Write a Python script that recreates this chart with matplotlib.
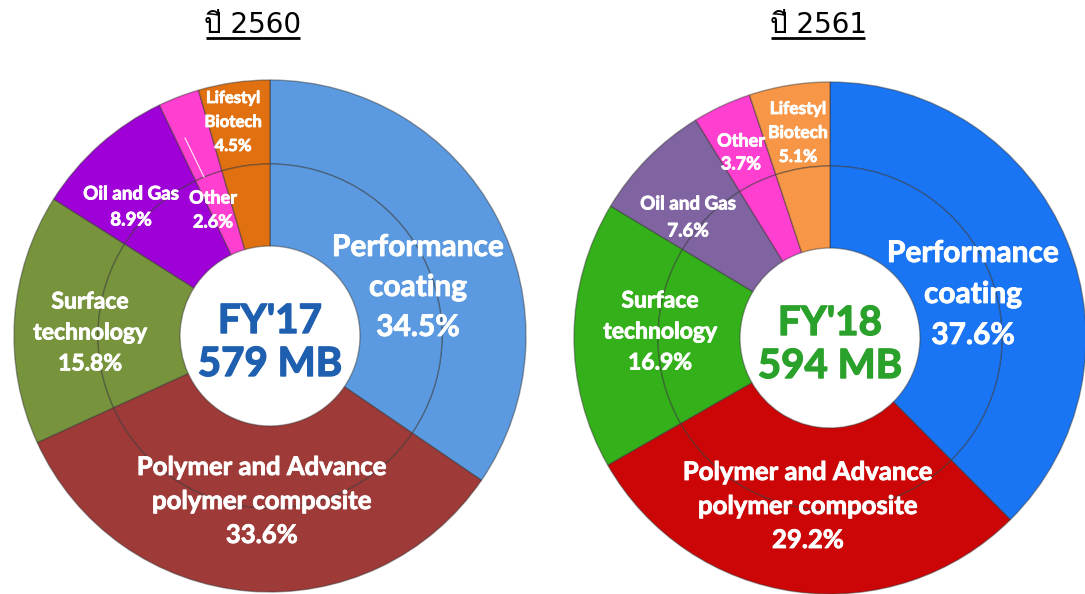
import matplotlib
matplotlib.use("Agg")
import matplotlib.pyplot as plt
from matplotlib import font_manager
from matplotlib.ft2font import FT2Font
import matplotlib.patheffects as pe

# find an installed family that has Thai glyphs
thai_family = None
for f in font_manager.fontManager.ttflist:
    try:
        cmap = FT2Font(f.fname).get_charmap()
    except Exception:
        continue
    if 0x0E1B in cmap and 0x0E35 in cmap:
        thai_family = f.name
        break

base_fams = ['Lato', 'DejaVu Sans']
plt.rcParams['font.family'] = base_fams
title_fams = ['DejaVu Sans'] + ([thai_family] if thai_family else [])

categories = ["Performance\ncoating", "Polymer and Advance\npolymer composite",
              "Surface\ntechnology", "Oil and Gas", "Other", "Lifestyl\nBiotech"]
values_fy17 = [34.5, 33.6, 15.8, 8.9, 2.6, 4.5]
values_fy18 = [37.6, 29.2, 16.9, 7.6, 3.7, 5.1]
titles = ["ปี 2560", "ปี 2561"]
center_texts = ["FY'17\n579 MB", "FY'18\n594 MB"]
colors_fy17 = ["#5B9AE0", "#9E3A38", "#77933C", "#A000D8", "#FF3FD0", "#E07010"]
colors_fy18 = ["#1A75F5", "#CC0606", "#33B01A", "#8064A2", "#FF3FD0", "#F79646"]
center_colors = ["#1F5FAF", "#2AA12A"]

W, H = 1085, 594
fig = plt.figure(figsize=(W / 100, H / 100), dpi=100)
ax = fig.add_axes([0, 0, 1, 1])
ax.set_xlim(0, W)
ax.set_ylim(0, H)
ax.axis('off')

def Y(y):
    return H - y

charts = [
    dict(vals=values_fy17, cols=colors_fy17, cx=270, cy=336, title_x=253,
         labels=[(418, 247, 21.5, 40), (262, 467, 18.5, 34), (90, 302, 16.5, 31),
                 (131, 194, 13.5, 26), (213, 198, 13, 24), (233, 98, 12, 24)]),
    dict(vals=values_fy18, cols=colors_fy18, cx=830, cy=338, title_x=818,
         labels=[(973, 253, 21.5, 41), (808, 472, 18.5, 34), (660, 301, 16.5, 31),
                 (688, 204, 13.5, 27), (741, 141, 13, 23), (798, 109, 12.5, 24)]),
]

R_OUT, R_MID, R_IN = 256, 172, 90
stroke = [pe.withStroke(linewidth=0.6, foreground='white')]

for i, ch in enumerate(charts):
    cx, cy = ch['cx'], Y(ch['cy'])
    for r in (R_OUT, R_MID):
        ax.pie(ch['vals'], colors=ch['cols'], startangle=90, counterclock=False,
               radius=r, center=(cx, cy),
               wedgeprops=dict(width=r - (R_MID if r == R_OUT else R_IN),
                               edgecolor=(0.2, 0.2, 0.2, 0.45), linewidth=1.0))
    # center text
    ax.text(cx, cy - 7, center_texts[i], ha='center', va='center',
            fontsize=29, fontweight='bold', color=center_colors[i],
            linespacing=1.2,
            path_effects=[pe.withStroke(linewidth=1.0, foreground=center_colors[i])])
    # labels
    for k, (lx, ly, fs, gap) in enumerate(ch['labels']):
        name = categories[k]
        pct = f"{ch['vals'][k]:.1f}%"
        lines = name.split("\n") + [pct]
        for j, line in enumerate(lines):
            ax.text(lx, Y(ly + j * gap), line, ha='center', va='center',
                    fontsize=fs, fontweight='bold', color='white',
                    path_effects=stroke)
    # title with underline
    ax.text(ch['title_x'], Y(25), titles[i], ha='center', va='center',
            fontsize=20, color='black', family=title_fams)
    ax.plot([ch['title_x'] - 47, ch['title_x'] + 47], [Y(38), Y(38)],
            color='black', linewidth=2, solid_capstyle='butt')

# thin white leader line inside the FY'17 "Other" wedge
ax.plot([185, 204], [Y(138), Y(177)], color='white', linewidth=0.8, alpha=0.9)

ax.set_xlim(0, W)
ax.set_ylim(0, H)
ax.set_aspect('auto')
fig.savefig("out.png", dpi=100, facecolor='white')
